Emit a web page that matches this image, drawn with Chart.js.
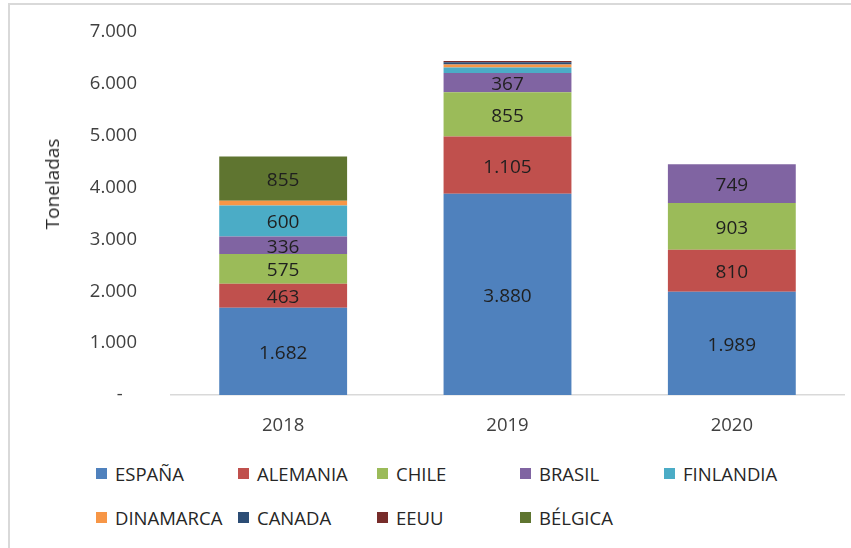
<!DOCTYPE html>
<html>
<head>
<meta charset="utf-8">
<script src="https://cdn.jsdelivr.net/npm/chart.js@4/dist/chart.umd.min.js"></script>
<style>
  html, body { margin: 0; padding: 0; background: #fff; overflow: hidden; }
  body { width: 851px; height: 548px; position: relative; font-family: "Open Sans", sans-serif; }
  #frame { position: absolute; left: 8px; top: 3px; width: 900px; height: 600px; border: 2px solid #d9d9d9; box-sizing: border-box; }
  #chart { position: absolute; left: 0; top: 0; }
  #ytitle { position: absolute; left: 52px; top: 184px; transform: translate(-50%, -50%) rotate(-90deg);
            font-size: 19px; color: #262626; white-space: nowrap; }
  #legend { position: absolute; left: 96px; top: 458px; display: grid;
            grid-template-columns: 142px 139px 143px 144px auto; grid-auto-rows: 44px; }
  .item { display: flex; align-items: center; font-size: 18.5px; color: #262626; white-space: nowrap; height: 30px; }
  .box { width: 11px; height: 11px; margin-right: 8px; flex: none; }
</style>
</head>
<body>
<div id="frame"></div>
<canvas id="chart" width="851" height="450"></canvas>
<div id="ytitle">Toneladas</div>
<div id="legend"></div>
<script>
var years = ["2018", "2019", "2020"];
var espana = [1682, 3880, 1989];
var alemania = [463, 1105, 810];
var chile = [575, 855, 903];
var brasil = [336, 367, 749];
var finlandia = [600, 110, 0];
var dinamarca = [90, 55, 0];
var canada = [0, 45, 0];
var eeuu = [0, 25, 0];
var belgica = [855, 0, 0];
var yTicks = [0, 1000, 2000, 3000, 4000, 5000, 6000, 7000];

function fmt(v) {
    if (v === 0) return '-   ';
    return String(v).replace(/\B(?=(\d{3})+(?!\d))/g, '.');
}

// value labels centred inside each segment (small ones hidden, like the original)
var barLabels = {
    id: 'barLabels',
    afterDatasetsDraw: function (chart) {
        var ctx = chart.ctx;
        ctx.save();
        ctx.font = '19px "Open Sans"';
        ctx.fillStyle = '#1f1f1f';
        ctx.textAlign = 'center';
        ctx.textBaseline = 'middle';
        chart.data.datasets.forEach(function (ds, i) {
            chart.getDatasetMeta(i).data.forEach(function (bar, j) {
                var v = ds.data[j];
                if (!v || v < 300) return;
                var p = bar.getProps(['x', 'y', 'base'], true);
                ctx.fillText(fmt(v), p.x, (p.y + p.base) / 2 + 2);
            });
        });
        ctx.restore();
    }
};

var ctx = document.getElementById("chart").getContext("2d");
var chart = new Chart(ctx, {
    type: 'bar',
    data: {
        labels: years,
        datasets: [
            { label: 'ESPAÑA', data: espana, backgroundColor: '#4f81bd' },
            { label: 'ALEMANIA', data: alemania, backgroundColor: '#c0504d' },
            { label: 'CHILE', data: chile, backgroundColor: '#9bbb59' },
            { label: 'BRASIL', data: brasil, backgroundColor: '#8064a2' },
            { label: 'FINLANDIA', data: finlandia, backgroundColor: '#4bacc6' },
            { label: 'DINAMARCA', data: dinamarca, backgroundColor: '#f79646' },
            { label: 'CANADA', data: canada, backgroundColor: '#2c4d75' },
            { label: 'EEUU', data: eeuu, backgroundColor: '#772c2a' },
            { label: 'BÉLGICA', data: belgica, backgroundColor: '#5f7530' }
        ]
    },
    options: {
        responsive: false,
        animation: false,
        devicePixelRatio: 1,
        barPercentage: 0.57,
        categoryPercentage: 1,
        layout: { padding: { top: 32, right: 7, left: 0, bottom: 0 } },
        plugins: { legend: { display: false }, tooltip: { enabled: false } },
        scales: {
            x: {
                stacked: true,
                grid: { display: false, drawTicks: false },
                border: { display: true, color: '#d9d9d9', width: 1.5 },
                ticks: { padding: 20, color: '#404040', font: { family: 'Open Sans', size: 18.5 } },
                afterFit: function (scale) { scale.height = 55; }
            },
            y: {
                stacked: true,
                min: 0,
                max: 7000,
                grid: { display: false, drawTicks: false },
                border: { display: false },
                afterBuildTicks: function (scale) {
                    scale.ticks = yTicks.map(function (v) { return { value: v }; });
                },
                ticks: {
                    padding: 34,
                    color: '#404040',
                    font: { family: 'Open Sans', size: 18.5 },
                    callback: function (v) { return fmt(v); }
                },
                afterFit: function (scale) {
                    scale.width = 171;
                    scale.paddingTop = 0;
                    scale.paddingBottom = 0;
                }
            }
        }
    },
    plugins: [barLabels]
});

// legend laid out as a grid like the spreadsheet original
var legend = document.getElementById("legend");
chart.data.datasets.forEach(function (ds) {
    var item = document.createElement("div");
    item.className = "item";
    var box = document.createElement("span");
    box.className = "box";
    box.style.background = ds.backgroundColor;
    item.appendChild(box);
    item.appendChild(document.createTextNode(ds.label));
    legend.appendChild(item);
});
</script>
</body>
</html>
